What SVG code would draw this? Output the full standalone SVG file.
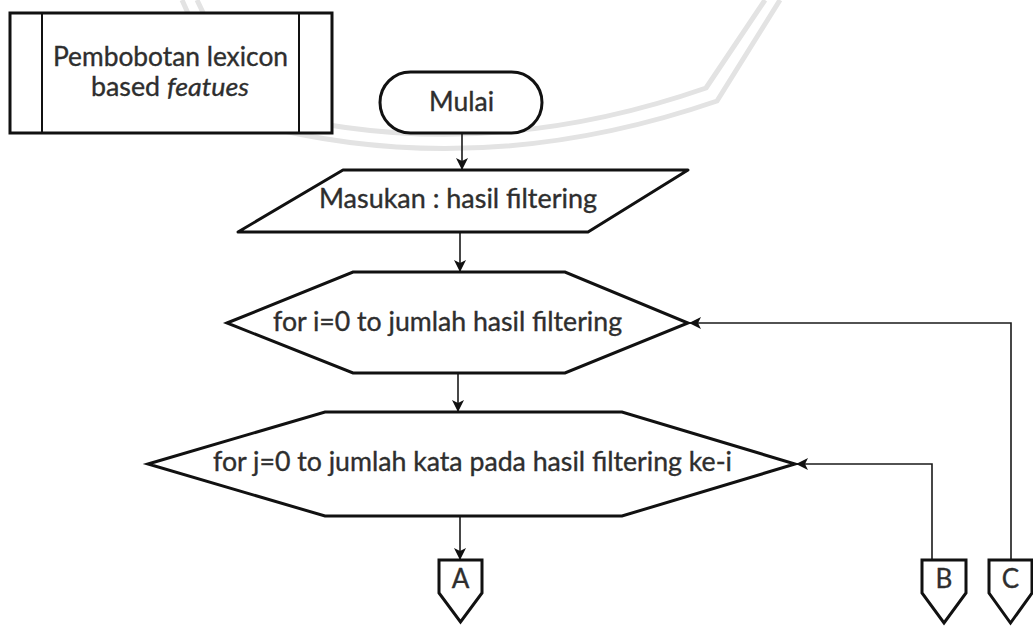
<svg xmlns="http://www.w3.org/2000/svg" width="1033" height="626" viewBox="0 0 1033 626">
  <style>
    .shape { fill: #ffffff; stroke: #111111; stroke-width: 3; }
    .thin { fill: none; stroke: #111111; stroke-width: 2; }
    .edge { fill: none; stroke: #1a1a1a; stroke-width: 1.6; }
    .lbl { font-family: Lato, "Open Sans", "Liberation Sans", sans-serif; font-size: 26px; fill: #2e2e2e; stroke: #2e2e2e; stroke-width: 0.35; }
    .mark { fill: none; stroke: #e3e3e3; stroke-width: 5; stroke-linejoin: round; }
  </style>
  <defs>
    <marker id="arrow" viewBox="0 0 14 14" refX="13" refY="7" markerWidth="14" markerHeight="14" markerUnits="userSpaceOnUse" orient="auto">
      <path d="M1,1 L13,7 L1,13 L4,7 Z" fill="#111111"/>
    </marker>
  </defs>

  <rect width="1033" height="626" fill="#ffffff"/>

  <!-- faint emblem outline in the background -->
  <g id="emblem">
    <path class="mark" d="M197,0 L248,107 Q470,170 706,88 L765,0"/>
    <path class="mark" d="M182,0 L236,119 Q470,186 717,101 L780,0"/>
  </g>

  <!-- predefined process title -->
  <g id="title">
    <rect class="shape" x="10" y="13" width="322" height="120" stroke-width="2"/>
    <line class="thin" x1="42" y1="13" x2="42" y2="133"/>
    <line class="thin" x1="299" y1="13" x2="299" y2="133"/>
    <text class="lbl" x="53" y="66" font-size="24" textLength="235" lengthAdjust="spacingAndGlyphs">Pembobotan lexicon</text>
    <text class="lbl" x="91" y="96" font-size="24" textLength="158" lengthAdjust="spacingAndGlyphs">based <tspan font-style="italic">featues</tspan></text>
  </g>

  <!-- connectors -->
  <g id="edges">
    <path class="edge" d="M462,134 L462,170" marker-end="url(#arrow)"/>
    <path class="edge" d="M460,232 L460,272" marker-end="url(#arrow)"/>
    <path class="edge" d="M458,373 L458,412" marker-end="url(#arrow)"/>
    <path class="edge" d="M460,516 L460,560" marker-end="url(#arrow)"/>
    <path class="edge" d="M1011,560 L1011,323 L689,323" marker-end="url(#arrow)"/>
    <path class="edge" d="M932,560 L932,464 L796,464" marker-end="url(#arrow)"/>
  </g>

  <g id="start">
    <rect class="shape" x="380" y="72" width="162" height="61" rx="30.5" ry="30.5"/>
    <text class="lbl" x="429" y="111" textLength="65" lengthAdjust="spacingAndGlyphs">Mulai</text>
  </g>

  <g id="input">
    <path class="shape" stroke-linejoin="round" d="M343,170 L688,170 L588,232 L238,232 Z"/>
    <text class="lbl" x="319" y="208" textLength="278" lengthAdjust="spacingAndGlyphs">Masukan : hasil filtering</text>
  </g>

  <g id="loop-i">
    <path class="shape" d="M227,323 L353,272 L565,272 L688,323 L565,373 L353,373 Z"/>
    <text class="lbl" x="273" y="331" textLength="349" lengthAdjust="spacingAndGlyphs">for i=0 to jumlah hasil filtering</text>
  </g>

  <g id="loop-j">
    <path class="shape" d="M148,464 L325,412 L622,412 L795,464 L622,516 L325,516 Z"/>
    <text class="lbl" x="213" y="471" textLength="519" lengthAdjust="spacingAndGlyphs">for j=0 to jumlah kata pada hasil filtering ke-i</text>
  </g>

  <g id="conn-a">
    <path class="shape" d="M439,560 L482,560 L482,593 L460.5,622 L439,593 Z"/>
    <text class="lbl" x="460.5" y="588" text-anchor="middle" font-size="22" stroke-width="0">A</text>
  </g>

  <g id="conn-b">
    <path class="shape" d="M922,560 L966,560 L966,593 L944,623 L922,593 Z"/>
    <text class="lbl" x="944" y="588" text-anchor="middle" font-size="22" stroke-width="0">B</text>
  </g>

  <g id="conn-c">
    <path class="shape" d="M989,560 L1032,560 L1032,593 L1010.5,623 L989,593 Z"/>
    <text class="lbl" x="1010.5" y="588" text-anchor="middle" font-size="22" stroke-width="0">C</text>
  </g>
</svg>
